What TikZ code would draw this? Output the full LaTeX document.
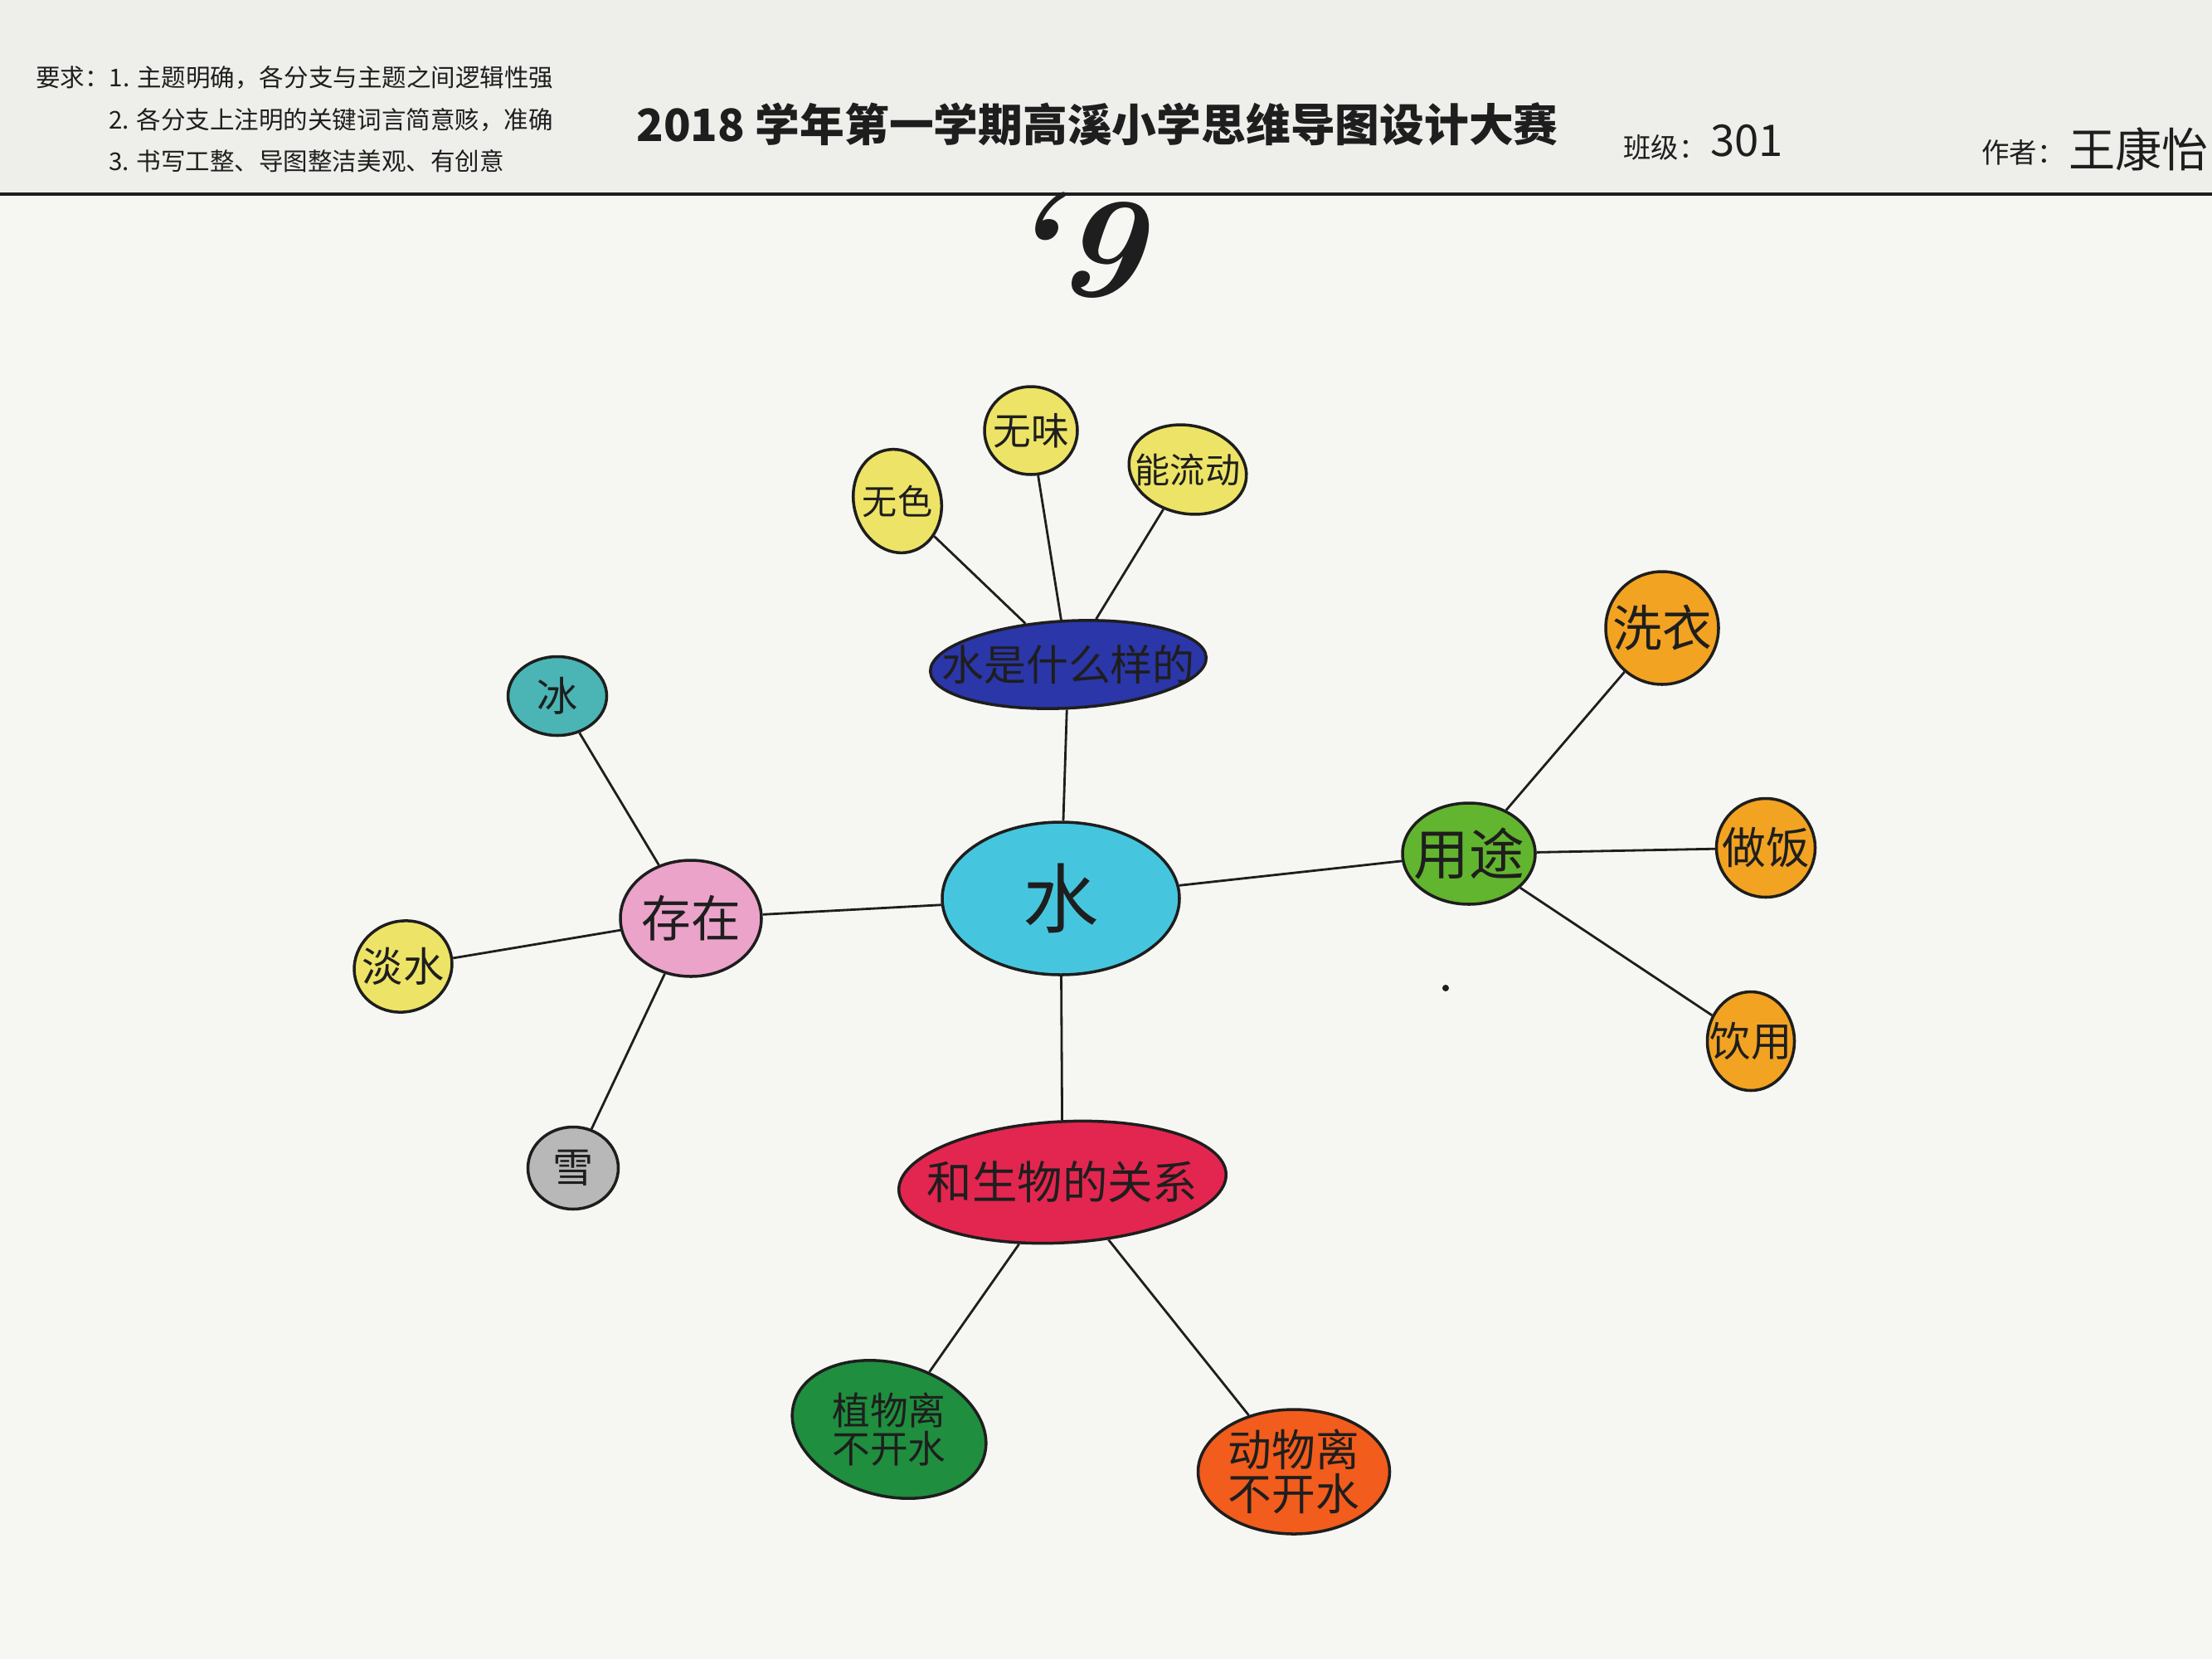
\documentclass[tikz,border=0pt]{standalone}
\usepackage{fontspec}
\newfontfamily\cjk{Noto Sans CJK SC}
\usetikzlibrary{shapes.geometric}
\definecolor{paper}{HTML}{F6F6F3}
\definecolor{headpaper}{HTML}{EEEEEB}
\definecolor{ink}{HTML}{1E1E1E}
\definecolor{cyanwater}{HTML}{45C6DE}
\definecolor{deepblue}{HTML}{2B36A8}
\definecolor{yolk}{HTML}{EDE467}
\definecolor{rosy}{HTML}{EBA3C9}
\definecolor{teal}{HTML}{4BB5B5}
\definecolor{stone}{HTML}{B8B8B8}
\definecolor{leaf}{HTML}{62B52E}
\definecolor{amber}{HTML}{F2A322}
\definecolor{crimson}{HTML}{E3264F}
\definecolor{forest}{HTML}{1F8E3E}
\definecolor{tangerine}{HTML}{F25C1C}
\newcommand\handsz[1]{\cjk\fontsize{#1}{#1}\selectfont}
\tikzset{
  blob/.style={ellipse, draw=ink, line width=1pt, inner sep=0pt},
  word/.style={font=\handsz{#1}, text=ink, align=center},
  link/.style={draw=ink, line width=0.8pt},
}

\begin{document}
\begin{tikzpicture}
		%%%%% START %%%%%
		\useasboundingbox (0,0) rectangle (26.67,-20);
		\fill[paper] (0,0) rectangle (26.67,-20);
		\fill[headpaper] (0,0) rectangle (26.67,-2.34);
		\draw[line width=1pt, color=ink] (0,-2.34) -- (26.67,-2.34);
		
		% header
		\node[word=8.4, anchor=west] (req1) at (0.31,-0.94) {要求：1. 主题明确，各分支与主题之间逻辑性强};
		\node[word=8.4, anchor=west] (req2) at (1.19,-1.45) {2. 各分支上注明的关键词言简意赅，准确};
		\node[word=8.4, anchor=west] (req3) at (1.19,-1.94) {3. 书写工整、导图整洁美观、有创意};
		\node[word=15.3, font=\handsz{15.3}\bfseries, anchor=west] (title) at (7.55,-1.50) {2018 学年第一学期高溪小学思维导图设计大赛};
		\node[word=9.5, anchor=west] (classlbl) at (19.45,-1.78) {班级：};
		\node[word=15, anchor=west] (classno) at (20.50,-1.70) {301};
		\node[word=9.5, anchor=west, inner sep=1pt] (authorlbl) at (23.85,-1.84) {作者：};
		\node[word=16, anchor=west, inner sep=1pt] (author) at (24.90,-1.80) {王康怡};
		\node[font=\rmfamily\bfseries\itshape\fontsize{50}{50}\selectfont, text=ink, rotate=-5] (mark) at (12.95,-2.95) {`9};
		
		% centre
		\node[blob, fill=cyanwater, minimum width=2.86cm, minimum height=1.84cm, label={[word=26]center:水}] (water) at (12.79,-10.83) {};
		
		% what water is like
		\node[blob, fill=deepblue, minimum width=3.33cm, minimum height=1.05cm, rotate=3, label={[word=14.5]center:水是什么样的}] (shape) at (12.88,-8.01) {};
		\node[blob, fill=yolk, minimum width=1.05cm, minimum height=1.26cm, rotate=15, label={[word=12]center:无色}] (colorless) at (10.82,-6.04) {};
		\node[blob, fill=yolk, minimum width=1.12cm, minimum height=1.06cm, label={[word=13]center:无味}] (tasteless) at (12.43,-5.19) {};
		\node[blob, fill=yolk, minimum width=1.43cm, minimum height=1.06cm, rotate=-12, label={[word=12]center:能流动}] (flowing) at (14.32,-5.66) {};
		
		% where water is
		\node[blob, fill=rosy, minimum width=1.70cm, minimum height=1.40cm, label={[word=17]center:存在}] (exist) at (8.33,-11.07) {};
		\node[blob, fill=teal, minimum width=1.19cm, minimum height=0.95cm, label={[word=14]center:冰}] (ice) at (6.72,-8.39) {};
		\node[blob, fill=yolk, minimum width=1.19cm, minimum height=1.09cm, rotate=20, label={[word=14]center:淡水}] (fresh) at (4.86,-11.65) {};
		\node[blob, fill=stone, minimum width=1.09cm, minimum height=0.99cm, label={[word=14]center:雪}] (snow) at (6.91,-14.08) {};
		
		% uses
		\node[blob, fill=leaf, minimum width=1.60cm, minimum height=1.22cm, label={[word=19]center:用途}] (use) at (17.71,-10.29) {};
		\node[blob, fill=amber, minimum width=1.36cm, minimum height=1.36cm, label={[word=17]center:洗衣}] (wash) at (20.04,-7.57) {};
		\node[blob, fill=amber, minimum width=1.19cm, minimum height=1.19cm, label={[word=15]center:做饭}] (cook) at (21.29,-10.22) {};
		\node[blob, fill=amber, minimum width=1.05cm, minimum height=1.19cm, label={[word=14]center:饮用}] (drink) at (21.11,-12.55) {};
		
		% living things
		\node[blob, fill=crimson, minimum width=3.95cm, minimum height=1.46cm, rotate=3, label={[word=15.5]center:和生物的关系}] (life) at (12.81,-14.25) {};
		\node[blob, fill=forest, minimum width=2.38cm, minimum height=1.60cm, rotate=-15, label={[word=13]center:植物离\\不开水}] (plant) at (10.72,-17.23) {};
		\node[blob, fill=tangerine, minimum width=2.31cm, minimum height=1.50cm, label={[word=15]center:动物离\\不开水}] (animal) at (15.60,-17.74) {};
		
		% connectors
		\draw[link] (water) -- (shape);
		\draw[link] (shape) -- (colorless);
		\draw[link] (shape) -- (tasteless);
		\draw[link] (shape) -- (flowing);
		\draw[link] (water) -- (exist);
		\draw[link] (exist) -- (ice);
		\draw[link] (exist) -- (fresh);
		\draw[link] (exist) -- (snow);
		\draw[link] (water) -- (use);
		\draw[link] (use) -- (wash);
		\draw[link] (use) -- (cook);
		\draw[link] (use) -- (drink);
		\draw[link] (water) -- (life);
		\draw[link] (life) -- (plant);
		\draw[link] (life) -- (animal);
		
		\fill[ink] (17.43,-11.91) circle (0.04);
		%%%%% END %%%%%
\end{tikzpicture}
\end{document}
